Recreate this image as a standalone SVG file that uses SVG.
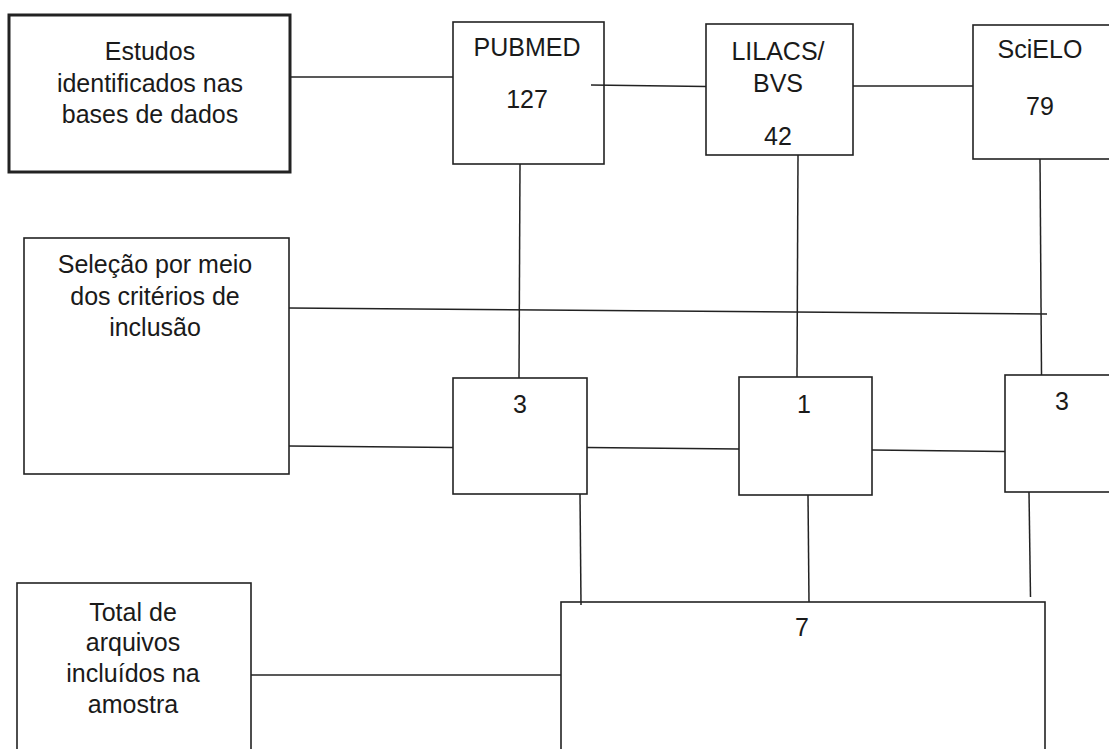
<svg xmlns="http://www.w3.org/2000/svg" width="1109" height="749" viewBox="0 0 1109 749">
<style>
.box{fill:#fff;stroke:#222;stroke-width:1.6}
.thick{stroke-width:3}
.t{font-family:"Liberation Sans",Arial,sans-serif;font-size:25px;fill:#1a1a1a;text-anchor:middle}
.c line{stroke:#222;stroke-width:1.5}
</style>
<rect width="1109" height="749" fill="#fff"/>
<g id="estudos">
<rect class="box thick" x="9" y="15" width="281" height="157"/>
<text class="t" x="150" y="60">Estudos</text>
<text class="t" x="150" y="92">identificados nas</text>
<text class="t" x="150" y="123">bases de dados</text>
</g>
<g id="pubmed">
<rect class="box" x="453" y="22" width="151" height="142"/>
<text class="t" x="527" y="55.5">PUBMED</text>
<text class="t" x="527" y="108">127</text>
</g>
<g id="lilacs">
<rect class="box" x="706" y="24" width="147" height="131"/>
<text class="t" x="778" y="60">LILACS/</text>
<text class="t" x="778" y="92">BVS</text>
<text class="t" x="778" y="145">42</text>
</g>
<g id="scielo">
<rect class="box" x="973" y="25" width="150" height="134"/>
<text class="t" x="1040" y="58">SciELO</text>
<text class="t" x="1040" y="115">79</text>
</g>
<g id="selecao">
<rect class="box" x="24" y="238" width="265" height="236"/>
<text class="t" x="155" y="273">Seleção por meio</text>
<text class="t" x="155" y="305">dos critérios de</text>
<text class="t" x="155" y="336">inclusão</text>
</g>
<g id="pubmed-sel">
<rect class="box" x="453" y="378" width="134" height="116"/>
<text class="t" x="520" y="413">3</text>
</g>
<g id="lilacs-sel">
<rect class="box" x="739" y="377" width="133" height="118"/>
<text class="t" x="804" y="413">1</text>
</g>
<g id="scielo-sel">
<rect class="box" x="1005" y="375" width="120" height="117"/>
<text class="t" x="1062" y="410">3</text>
</g>
<g id="total">
<rect class="box" x="17" y="583" width="234" height="180"/>
<text class="t" x="133" y="621">Total de</text>
<text class="t" x="133" y="651">arquivos</text>
<text class="t" x="133" y="682">incluídos na</text>
<text class="t" x="133" y="713">amostra</text>
</g>
<g id="total-num">
<rect class="box" x="561" y="602" width="484" height="170"/>
<text class="t" x="802" y="636">7</text>
</g>
<g id="connectors" class="c">
<line x1="290" y1="77" x2="453" y2="77"/>
<line x1="591" y1="85" x2="706" y2="86.5"/>
<line x1="853" y1="86" x2="973" y2="86"/>
<line x1="520" y1="164" x2="519" y2="378"/>
<line x1="798" y1="155" x2="797" y2="377"/>
<line x1="1040" y1="159" x2="1041.5" y2="375"/>
<line x1="289" y1="308" x2="1047" y2="314"/>
<line x1="289" y1="446" x2="453" y2="447.5"/>
<line x1="587" y1="447.5" x2="739" y2="449"/>
<line x1="872" y1="450" x2="1005" y2="451.5"/>
<line x1="580" y1="494" x2="581" y2="605"/>
<line x1="808" y1="495" x2="809" y2="602"/>
<line x1="1029" y1="492" x2="1030.5" y2="597"/>
<line x1="251" y1="675" x2="561" y2="675"/>
</g>
</svg>
